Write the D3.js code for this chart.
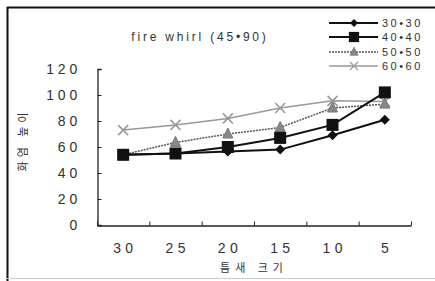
<!DOCTYPE html>
<html>
<head>
<meta charset="utf-8">
<script src="https://d3js.org/d3.v7.min.js"></script>
<style>
  body { margin: 0; background: #fff; }
  text { font-family: "Liberation Sans", Arial, sans-serif; fill: #333; }
  .kr { font-family: "Noto Sans CJK KR", sans-serif; }
</style>
</head>
<body>
<div id="chart"></div>
<script>
// data
var gaps = ["30", "25", "20", "15", "10", "5"];
var yTicks = [0, 20, 40, 60, 80, 100, 120];
var s30 = [54, 55, 56.5, 58, 69, 81];
var s40 = [54, 55, 60, 67, 77, 102];
var s50 = [54, 63.5, 70, 75, 90, 93];
var s60 = [73, 77, 82, 90, 95.5, 95];
var seriesNames = ["30\u202230", "40\u202240", "50\u202250", "60\u202260"];

var w = 435, h = 281;
var svg = d3.select("#chart").append("svg")
  .attr("width", w).attr("height", h);

// frame
svg.append("line").attr("x1", 7).attr("x2", w).attr("y1", 7.5).attr("y2", 7.5)
  .attr("stroke", "#111").attr("stroke-width", 2);
svg.append("line").attr("x1", 7.5).attr("x2", 7.5).attr("y1", 7).attr("y2", h)
  .attr("stroke", "#111").attr("stroke-width", 2);
svg.append("line").attr("x1", 7).attr("x2", w).attr("y1", 278.5).attr("y2", 278.5)
  .attr("stroke", "#ccc").attr("stroke-width", 1);

var x = d3.scaleBand().domain(gaps).range([97, 411]);
var y = d3.scaleLinear().domain([0, 120]).range([225, 69]);

// axes
var yAxis = svg.append("g").attr("transform", "translate(97.5,0)")
  .call(d3.axisRight(y).tickValues(yTicks).tickSize(4).tickFormat(""));
var xAxis = svg.append("g").attr("transform", "translate(0,225.5)")
  .call(d3.axisTop(x).tickSize(0).tickFormat(""));
// x ticks at band edges
xAxis.selectAll(".edge").data(gaps.concat(["end"])).enter().append("line")
  .attr("class", "edge")
  .attr("x1", function (d, i) { return 97 + i * x.step() + 0.5; })
  .attr("x2", function (d, i) { return 97 + i * x.step() + 0.5; })
  .attr("y1", 0).attr("y2", -4).attr("stroke", "#222");
svg.selectAll(".domain").attr("stroke", "#222").attr("stroke-width", 1.3);
svg.selectAll(".tick line").attr("stroke", "#222");

// tick labels
svg.selectAll(".ylab").data(yTicks).enter().append("text")
  .attr("x", 81).attr("y", function (d) { return y(d) + 5; })
  .attr("text-anchor", "end").attr("font-size", 14).attr("letter-spacing", 3.8)
  .text(function (d) { return d; });
svg.selectAll(".xlab").data(gaps).enter().append("text")
  .attr("x", function (d) { return x(d) + x.bandwidth() / 2 + 2.2; })
  .attr("y", 253).attr("text-anchor", "middle")
  .attr("font-size", 14).attr("letter-spacing", 4.4)
  .text(function (d) { return d; });

// axis titles
svg.append("text").attr("class", "kr")
  .attr("x", 254).attr("y", 272).attr("text-anchor", "middle")
  .attr("font-size", 11).attr("letter-spacing", 5)
  .text("틈새 크기");
svg.append("text").attr("class", "kr")
  .attr("transform", "translate(27,140) rotate(-90)")
  .attr("text-anchor", "middle").attr("font-size", 11).attr("letter-spacing", 4)
  .text("화염 높이");

// title
svg.append("text").attr("x", 200).attr("y", 41).attr("text-anchor", "middle")
  .attr("font-size", 12).attr("letter-spacing", 2.8)
  .text("fire whirl (45\u202290)");

var styles = [
  { data: s30, color: "#111", width: 2, dash: null, mark: "diamond" },
  { data: s40, color: "#111", width: 2, dash: null, mark: "square" },
  { data: s50, color: "#555", width: 1.5, dash: "2,1", mark: "triangle" },
  { data: s60, color: "#999", width: 1.5, dash: null, mark: "x" }
];

function marker(g, kind, color) {
  if (kind === "diamond") {
    g.append("path").attr("d", "M0,-5L5,0L0,5L-5,0Z").attr("fill", color);
  } else if (kind === "square") {
    g.append("rect").attr("x", -6).attr("y", -6).attr("width", 12).attr("height", 12).attr("fill", color);
  } else if (kind === "triangle") {
    g.append("path").attr("d", "M0,-6L5,4L-5,4Z").attr("fill", "#888").attr("stroke", "#777");
  } else {
    g.append("path").attr("d", "M-5,-5L5,5M-5,5L5,-5").attr("stroke", color).attr("stroke-width", 1.5).attr("fill", "none");
  }
}

var line = d3.line()
  .x(function (d, i) { return x(gaps[i]) + x.bandwidth() / 2; })
  .y(function (d) { return y(d); });

// draw back to front: 60 first
styles.slice().reverse().forEach(function (s) {
  svg.append("path").datum(s.data).attr("d", line)
    .attr("fill", "none").attr("stroke", s.color).attr("stroke-width", s.width)
    .attr("stroke-dasharray", s.dash);
  s.data.forEach(function (v, i) {
    var g = svg.append("g").attr("transform",
      "translate(" + (x(gaps[i]) + x.bandwidth() / 2) + "," + y(v) + ")");
    marker(g, s.mark, s.color);
  });
});

// legend
var legendY = [23, 37, 52, 66];
styles.forEach(function (s, i) {
  var ly = legendY[i];
  svg.append("line").attr("x1", 329).attr("x2", 378).attr("y1", ly).attr("y2", ly)
    .attr("stroke", s.color).attr("stroke-width", s.width).attr("stroke-dasharray", s.dash);
  var g = svg.append("g").attr("transform", "translate(354," + ly + ")");
  marker(g, s.mark, s.color);
  g.selectAll("*").attr("transform", s.mark === "square" ? "scale(0.85)" : "scale(0.8)");
  svg.append("text").attr("x", 382).attr("y", ly + 4)
    .attr("font-size", 11).attr("letter-spacing", 2.5)
    .text(seriesNames[i]);
});
</script>
</body>
</html>
